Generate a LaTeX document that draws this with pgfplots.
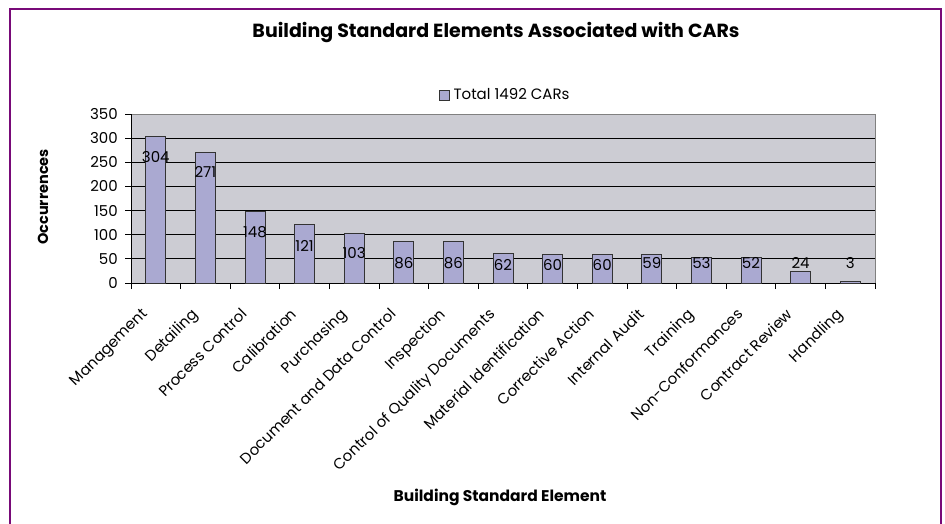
\documentclass[border=0pt]{standalone}
\usepackage{fontspec}
\setmainfont{Poppins}
\usepackage{pgfplots}
\pgfplotsset{compat=1.18}
\definecolor{barfill}{RGB}{170,169,209}
\definecolor{plotbg}{RGB}{204,204,211}
\definecolor{framec}{RGB}{120,10,120}
\newcommand{\tf}{\fontsize{15}{15}\selectfont}
\begin{document}
\begin{tikzpicture}[x=1pt,y=1pt]
\path[use as bounding box] (0,0) rectangle (945,523);
\begin{scope}
\clip (0,0) rectangle (945,523);
\draw[framec, line width=1.5pt] (10,514) rectangle (941,-5);
\end{scope}
\node[font=\bfseries\fontsize{19}{19}\selectfont] at (496,490) {Building Standard Elements Associated with CARs};
\node[font=\bfseries\fontsize{14.5}{14.5}\selectfont, rotate=90] at (43,326) {Occurrences};
\node[font=\bfseries\fontsize{15.5}{15.5}\selectfont] at (500,26) {Building Standard Element};
\begin{axis}[
  at={(131pt,240pt)}, anchor=south west, scale only axis,
  width=744pt, height=169pt,
  xmin=-0.5, xmax=14.5, ymin=0, ymax=350,
  axis x line=bottom, axis y line=left, axis line style={-, black, line width=0.8pt},
  axis background/.style={fill=plotbg, draw=gray, line width=0.8pt},
  ytick={0,50,...,300}, extra y ticks={350}, extra y tick style={grid=none},
  ymajorgrids, grid style={black, line width=0.8pt},
  xtick={0,...,14},
  xticklabels={Management,Detailing,Process Control,Calibration,Purchasing,Document and Data Control,Inspection,Control of Quality Documents,Material Identification,Corrective Action,Internal Audit,Training,Non-Conformances,Contract Review,Handling},
  minor xtick={-0.5,0.5,...,14.5},
  tick align=outside,
  major x tick style={draw=none},
  minor x tick style={black, line width=0.8pt},
  y tick style={black, line width=0.8pt},
  major tick length=6pt, minor tick length=6pt,
  /pgf/number format/assume math mode=true,
  tick label style={font=\tf},
  xticklabel style={xshift=-15pt, yshift=-18pt, rotate=45, anchor=north east, inner sep=0pt},
  yticklabel style={inner sep=0pt, xshift=-7pt},
  legend style={at={(0.503,1.112)}, anchor=center, draw=none, fill=none, font=\tf},
  clip=false,
]
\addplot[ybar, bar width=20pt, fill=barfill, draw=black!80, line width=0.8pt,
  legend image code/.code={\draw[fill=barfill, draw=black!80, line width=0.6pt] (0pt,-5pt) rectangle (10pt,5pt);}]
  coordinates {(0,304) (1,271) (2,148) (3,121) (4,103) (5,86) (6,86) (7,62) (8,60) (9,60) (10,59) (11,53) (12,52) (13,24) (14,3)};
\addlegendentry{\hspace{2pt}Total 1492 CARs}
\addplot[draw=none, mark=none, forget plot, nodes near coords, point meta=explicit symbolic,
  nodes near coords style={anchor=center, font=\tf, inner sep=0pt, text=black}]
  table[meta=v] {
x y v
0 261 304
1 230 271
2 105 148
3 77 121
4 63 103
5 41 86
6 41 86
7 37 62
8 37 60
9 37 60
10 41 59
11 41 53
12 41 52
13 41 24
14 41 3
};
\end{axis}
\end{tikzpicture}
\end{document}
